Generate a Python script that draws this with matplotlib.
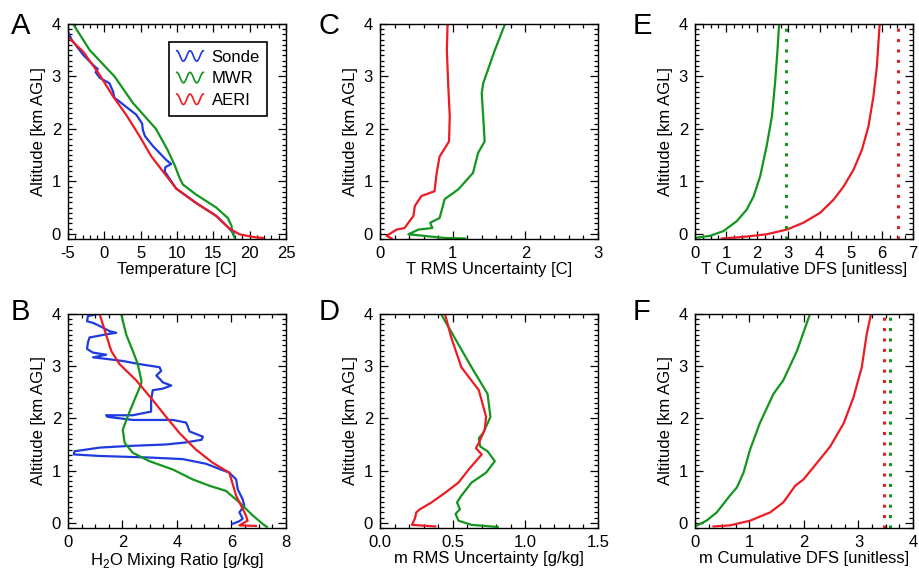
import numpy as np
import matplotlib
matplotlib.use("Agg")
import matplotlib.pyplot as plt
from matplotlib.ticker import AutoMinorLocator, MultipleLocator, FormatStrFormatter
from matplotlib.legend_handler import HandlerBase
from matplotlib.lines import Line2D

plt.rcParams['font.family'] = ['Liberation Sans', 'DejaVu Sans']
plt.rcParams['mathtext.fontset'] = 'custom'
plt.rcParams['mathtext.rm'] = 'Liberation Sans'
plt.rcParams['axes.unicode_minus'] = False
plt.rcParams['font.size'] = 12

BLUE = '#1f3be0'
GREEN = '#14961e'
RED = '#ec1c24'

# ---- panel A: temperature profiles
a_sonde_t = [-5.0, -4.5, -2.9, -1.4, -0.9, -1.2, -0.6, 0.7, 1.2, 1.4, 2.1, 3.0, 4.4, 5.2, 5.3, 5.6,
             6.7, 7.6, 8.5, 9.2, 8.4, 8.3, 9.9, 12.6, 15.4, 17.2, 17.8]
a_sonde_alt = [3.85, 3.7, 3.41, 3.2, 3.14, 3.08, 2.97, 2.87, 2.71, 2.59, 2.52, 2.42, 2.27, 2.1, 1.98, 1.86,
               1.67, 1.54, 1.41, 1.33, 1.27, 1.19, 0.86, 0.59, 0.34, 0.1, 0.0]
a_mwr_t = [-4.3, -2.0, 1.4, 3.9, 7.1, 8.7, 9.7, 10.4, 10.8, 12.6, 15.4, 17.0, 17.5, 17.6, 17.7, 17.9]
a_mwr_alt = [4.0, 3.5, 3.0, 2.5, 2.0, 1.6, 1.3, 1.05, 0.94, 0.75, 0.5, 0.3, 0.15, 0.05, 0.0, -0.07]
a_aeri_t = [-5.0, -2.9, -0.65, 1.2, 3.0, 4.85, 6.45, 8.05, 9.9, 12.6, 15.4, 17.2, 18.6, 20.4, 21.8]
a_aeri_alt = [3.75, 3.47, 3.03, 2.62, 2.27, 1.86, 1.48, 1.19, 0.86, 0.59, 0.34, 0.1, -0.01, -0.06, -0.08]

# ---- panel B: water vapour mixing ratio
b_sonde_q = [1.10, 0.73, 0.70, 0.92, 1.20, 1.53, 1.77, 1.40, 0.79, 0.73, 0.70, 0.92, 1.40, 0.92, 1.40,
             2.01, 2.62, 3.36, 3.42, 3.24, 3.36, 3.48, 3.79, 3.48, 3.11, 3.05, 3.05, 2.38, 1.40, 1.45,
             2.38, 3.85, 4.33, 4.40, 4.46, 4.95, 4.90, 4.33, 3.60, 2.14, 1.16, 0.24, 0.21, 1.16, 2.99,
             4.21, 5.07, 5.56, 5.92, 6.17, 6.23, 6.41, 6.47, 6.29, 6.41, 6.29, 6.04]
b_sonde_alt = [4.0, 3.96, 3.86, 3.83, 3.76, 3.67, 3.64, 3.61, 3.55, 3.45, 3.33, 3.26, 3.22, 3.17, 3.14,
               3.10, 3.04, 2.98, 2.91, 2.82, 2.76, 2.69, 2.63, 2.57, 2.54, 2.35, 2.13, 2.06, 2.06, 2.03,
               1.97, 1.97, 1.92, 1.84, 1.75, 1.65, 1.59, 1.54, 1.50, 1.47, 1.44, 1.37, 1.31, 1.28, 1.25,
               1.22, 1.13, 1.03, 0.96, 0.83, 0.64, 0.45, 0.33, 0.20, 0.08, 0.03, -0.02]
b_mwr_q = [1.95, 2.14, 2.38, 2.56, 2.69, 2.69, 2.38, 2.14, 2.01, 2.08, 2.38, 2.99, 3.85, 4.58, 5.19,
           5.80, 6.29, 6.78, 7.14, 7.30]
b_mwr_alt = [4.0, 3.6, 3.29, 3.04, 2.73, 2.67, 2.28, 1.97, 1.78, 1.53, 1.34, 1.18, 1.02, 0.83, 0.71,
             0.61, 0.39, 0.14, -0.02, -0.08]
b_aeri_q = [1.16, 1.40, 1.59, 1.89, 2.50, 3.11, 3.60, 4.09, 4.70, 5.31, 5.92, 6.17, 6.53, 6.59, 6.29, 6.90]
b_aeri_alt = [4.0, 3.6, 3.29, 3.04, 2.73, 2.35, 2.03, 1.72, 1.40, 1.15, 0.96, 0.52, 0.14, 0.04, -0.05, -0.06]

# ---- panel C: T RMS uncertainty
c_aeri_u = [0.93, 0.92, 0.94, 0.96, 0.95, 0.82, 0.78, 0.75, 0.57, 0.48, 0.46, 0.39, 0.34, 0.23, 0.09, 0.16]
c_aeri_alt = [4.0, 3.5, 2.8, 2.24, 1.76, 1.47, 1.16, 0.81, 0.72, 0.53, 0.34, 0.21, 0.11, 0.08, -0.04, -0.09]
c_mwr_u = [1.72, 1.58, 1.42, 1.40, 1.42, 1.44, 1.35, 1.28, 1.08, 0.89, 0.82, 0.69, 0.72, 0.53, 0.39, 0.89, 1.17]
c_mwr_alt = [4.0, 3.5, 2.87, 2.68, 2.24, 1.76, 1.54, 1.16, 0.85, 0.66, 0.30, 0.21, 0.11, 0.08, -0.01, -0.08, -0.09]

# ---- panel D: m RMS uncertainty
d_aeri_u = [0.447, 0.49, 0.56, 0.68, 0.73, 0.72, 0.68, 0.66, 0.70, 0.61, 0.54, 0.45, 0.355, 0.275, 0.25,
            0.24, 0.22, 0.38]
d_aeri_alt = [4.0, 3.55, 2.98, 2.54, 2.03, 1.78, 1.53, 1.43, 1.31, 1.02, 0.77, 0.58, 0.39, 0.26, 0.20,
              0.08, -0.04, -0.07]
d_mwr_u = [0.42, 0.50, 0.63, 0.74, 0.76, 0.71, 0.68, 0.69, 0.74, 0.79, 0.73, 0.63, 0.56, 0.53, 0.55,
           0.52, 0.54, 0.63, 0.81]
d_mwr_alt = [4.0, 3.61, 2.98, 2.47, 2.03, 1.72, 1.62, 1.46, 1.37, 1.18, 0.96, 0.77, 0.52, 0.39, 0.26,
             0.17, 0.04, -0.04, -0.08]

# ---- panel E: T cumulative DFS
e_mwr_dfs = [0.0, 0.48, 0.91, 1.34, 1.66, 1.88, 2.09, 2.30, 2.47, 2.57, 2.65, 2.70]
e_mwr_alt = [-0.08, -0.04, 0.05, 0.24, 0.46, 0.71, 1.09, 1.67, 2.24, 2.87, 3.51, 4.0]
e_aeri_dfs = [0.86, 1.55, 2.30, 2.95, 3.48, 4.02, 4.45, 4.77, 5.09, 5.36, 5.57, 5.73, 5.84, 5.93]
e_aeri_alt = [-0.09, -0.06, -0.01, 0.08, 0.21, 0.40, 0.65, 0.90, 1.22, 1.60, 2.05, 2.62, 3.19, 4.0]
e_mwr_total = 2.92
e_aeri_total = 6.51

# ---- panel F: m cumulative DFS
f_mwr_dfs = [0.02, 0.21, 0.40, 0.64, 0.77, 0.89, 1.01, 1.19, 1.44, 1.62, 1.87, 2.11]
f_mwr_alt = [-0.06, 0.04, 0.20, 0.52, 0.68, 0.96, 1.40, 1.91, 2.47, 2.73, 3.29, 4.0]
f_aeri_dfs = [0.34, 0.64, 1.01, 1.38, 1.62, 1.84, 1.99, 2.24, 2.48, 2.73, 2.91, 3.06, 3.15, 3.23]
f_aeri_alt = [-0.07, -0.05, 0.04, 0.20, 0.39, 0.71, 0.83, 1.15, 1.46, 1.91, 2.41, 2.98, 3.61, 4.0]
f_mwr_total = 3.58
f_aeri_total = 3.46


class WaveHandler(HandlerBase):
    # draws the little wave glyph used in the legend
    def create_artists(self, legend, orig_handle, xdescent, ydescent, width, height, fontsize, trans):
        s = np.linspace(0, 1, 60)
        x = -xdescent + s * width
        y = -ydescent + height * (0.5 + 0.45 * np.cos(4 * np.pi * s))
        ln = Line2D(x, y, color=orig_handle.get_color(), lw=1.2, transform=trans)
        return [ln]


fig = plt.figure(figsize=(9.2, 5.75), dpi=100)
W, H = 920.0, 575.0


def make_ax(left, top, w=218, h=215):
    return fig.add_axes([left / W, 1 - (top + h) / H, w / W, h / H])


def style(ax, xlim, xmajor, xminor, xlabel):
    ax.set_xlim(*xlim)
    ax.set_ylim(-0.1, 4)
    ax.xaxis.set_major_locator(MultipleLocator(xmajor))
    ax.xaxis.set_minor_locator(AutoMinorLocator(xminor))
    ax.yaxis.set_major_locator(MultipleLocator(1))
    ax.yaxis.set_minor_locator(MultipleLocator(0.1))
    ax.tick_params(which='both', direction='in', top=True, right=True, width=0.9)
    ax.tick_params(which='major', length=6, pad=5, labelsize=12)
    ax.tick_params(which='minor', length=3)
    for sp in ax.spines.values():
        sp.set_linewidth(1.0)
    ax.set_xlabel(xlabel, fontsize=12, labelpad=1)
    ax.set_ylabel('Altitude [km AGL]', fontsize=12, labelpad=4)


LW = 1.6
DOT = (0, (1, 2.4))

axA = make_ax(68, 24)
axB = make_ax(68, 314, h=214)
axC = make_ax(380, 24)
axD = make_ax(380, 314, h=214)
axE = make_ax(695, 24)
axF = make_ax(695, 314, h=214)

lS, = axA.plot(a_sonde_t, a_sonde_alt, color=BLUE, lw=LW)
lM, = axA.plot(a_mwr_t, a_mwr_alt, color=GREEN, lw=LW)
lA, = axA.plot(a_aeri_t, a_aeri_alt, color=RED, lw=LW)
style(axA, (-5, 25), 5, 5, 'Temperature [C]')
leg = axA.legend([lS, lM, lA], ['Sonde', 'MWR', 'AERI'],
                 handler_map={Line2D: WaveHandler()},
                 loc='upper right', bbox_to_anchor=(0.915, 0.915), fancybox=False,
                 edgecolor='black', framealpha=1, fontsize=12, handlelength=1.6,
                 handletextpad=0.5, borderpad=0.45, labelspacing=0.4, borderaxespad=0)
leg.get_frame().set_linewidth(1.2)

axB.plot(b_sonde_q, b_sonde_alt, color=BLUE, lw=LW)
axB.plot(b_mwr_q, b_mwr_alt, color=GREEN, lw=LW)
axB.plot(b_aeri_q, b_aeri_alt, color=RED, lw=LW)
style(axB, (0, 8), 2, 4, 'H$_\\mathrm{2}$O Mixing Ratio [g/kg]')

axC.plot(c_mwr_u, c_mwr_alt, color=GREEN, lw=LW)
axC.plot(c_aeri_u, c_aeri_alt, color=RED, lw=LW)
style(axC, (0, 3), 1, 5, 'T RMS Uncertainty [C]')

axD.plot(d_mwr_u, d_mwr_alt, color=GREEN, lw=LW)
axD.plot(d_aeri_u, d_aeri_alt, color=RED, lw=LW)
style(axD, (0, 1.5), 0.5, 5, 'm RMS Uncertainty [g/kg]')
axD.xaxis.set_major_formatter(FormatStrFormatter('%.1f'))

axE.plot(e_mwr_dfs, e_mwr_alt, color=GREEN, lw=LW)
axE.plot(e_aeri_dfs, e_aeri_alt, color=RED, lw=LW)
axE.axvline(e_mwr_total, color=GREEN, lw=2.2, ls=DOT)
axE.axvline(e_aeri_total, color=RED, lw=2.2, ls=DOT)
style(axE, (0, 7), 1, 4, 'T Cumulative DFS [unitless]')

axF.plot(f_mwr_dfs, f_mwr_alt, color=GREEN, lw=LW)
axF.plot(f_aeri_dfs, f_aeri_alt, color=RED, lw=LW)
axF.axvline(f_aeri_total, color=RED, lw=2.2, ls=DOT)
axF.axvline(f_mwr_total, color=GREEN, lw=2.2, ls=DOT)
style(axF, (0, 4), 1, 4, 'm Cumulative DFS [unitless]')

for lab, x, y in [('A', 11, 12), ('B', 11, 298), ('C', 319, 12), ('D', 319, 298),
                  ('E', 633, 12), ('F', 633, 298)]:
    fig.text(x / W, 1 - y / H, lab, fontsize=21, ha='left', va='top')

fig.savefig('out.png', dpi=100)
